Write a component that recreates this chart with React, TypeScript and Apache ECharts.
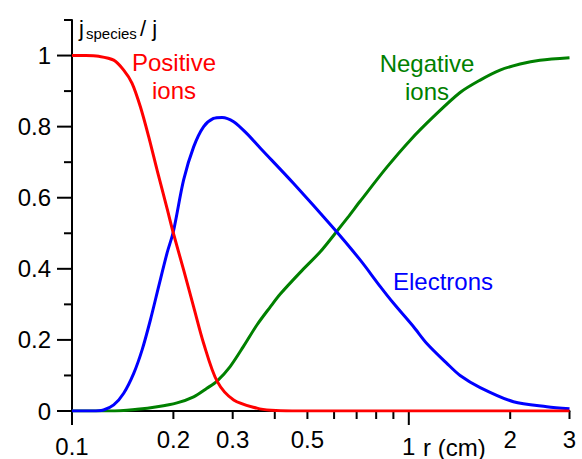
import React, { useEffect, useRef } from "react";
import * as echarts from "echarts";

// ---- data (r in cm, fraction j_species / j) ----
const positiveIons: [number, number][] = [
  [0.1, 1], [0.11, 1], [0.12, 0.998], [0.133, 0.987], [0.1424, 0.959], [0.1508, 0.922],
  [0.1596, 0.856], [0.1689, 0.772], [0.1789, 0.678], [0.1915, 0.57], [0.2, 0.5],
  [0.2145, 0.397], [0.2297, 0.293], [0.246, 0.19], [0.2696, 0.084], [0.302, 0.031],
  [0.354, 0.008], [0.39, 0.002], [0.45, 0], [1, 0], [3, 0],
];
const electrons: [number, number][] = [
  [0.1, 0], [0.115, 0], [0.124, 0.003], [0.133, 0.017], [0.1424, 0.05], [0.1525, 0.106],
  [0.1615, 0.172], [0.1709, 0.256], [0.1808, 0.35], [0.1915, 0.444], [0.2, 0.505],
  [0.2145, 0.65], [0.2297, 0.743], [0.246, 0.8], [0.263, 0.823], [0.279, 0.826],
  [0.302, 0.814], [0.33, 0.781], [0.362, 0.74], [0.455, 0.64], [0.598, 0.514],
  [0.717, 0.425], [0.823, 0.35], [0.901, 0.303], [1.033, 0.237], [1.131, 0.19],
  [1.297, 0.134], [1.42, 0.1], [1.629, 0.066], [2.045, 0.026], [2.57, 0.012], [3, 0.006],
];
const negativeIons: [number, number][] = [
  [0.1, 0], [0.13, 0], [0.156, 0.005], [0.179, 0.012], [0.205, 0.023], [0.2297, 0.04],
  [0.2515, 0.064], [0.2696, 0.084], [0.2948, 0.125], [0.3226, 0.181], [0.354, 0.242],
  [0.388, 0.293], [0.4153, 0.329], [0.476, 0.39], [0.546, 0.448], [0.605, 0.5],
  [0.662, 0.547], [0.717, 0.59], [0.861, 0.686], [1.01, 0.762], [1.184, 0.828],
  [1.42, 0.896], [1.629, 0.931], [1.866, 0.959], [2.14, 0.976], [2.45, 0.987], [3, 0.994],
];

// ---- axis ticks ----
const xTickValues = [0.1, 0.2, 0.3, 0.5, 1, 2, 3];
const xTickLabels = ["0.1", "0.2", "0.3", "0.5", "1", "2", "3"];
const xDecadeTicks = [0.1, 1];
const xMinorTicks = [0.4, 0.6, 0.7, 0.8, 0.9];
const yTickValues = [0, 0.2, 0.4, 0.6, 0.8, 1];
const yTickLabels = ["0", "0.2", "0.4", "0.6", "0.8", "1"];
const yMinorTicks = [0.1, 0.3, 0.5, 0.7, 0.9, 1.1];

const FONT = '"Liberation Sans", Arial, sans-serif';
const RED = "#ff0000";
const BLUE = "#0000ff";
const GREEN = "#008000";

export default function App() {
  const ref = useRef<HTMLDivElement>(null);
  useEffect(() => {
    if (!ref.current) return;
    const chart = echarts.init(ref.current, undefined, { renderer: "svg" });
    const lineSeries = (name: string, data: [number, number][], color: string) => ({
      type: "line",
      name,
      data,
      showSymbol: false,
      symbol: "none",
      smooth: 0.3,
      lineStyle: { color, width: 3 },
      z: 3,
    });
    chart.setOption({
      animation: false,
      grid: { left: 72, right: 12.5, top: 20, bottom: 48 },
      xAxis: {
        type: "log",
        logBase: 10,
        min: 0.1,
        max: 3,
        axisLine: { show: true, lineStyle: { color: "#000", width: 2 } },
        axisTick: { show: false },
        axisLabel: { show: false },
        splitLine: { show: false },
        minorSplitLine: { show: false },
      },
      yAxis: {
        type: "value",
        min: 0,
        max: 1.1,
        axisLine: { show: true, lineStyle: { color: "#000", width: 2 } },
        axisTick: { show: false },
        axisLabel: { show: false },
        splitLine: { show: false },
      },
      series: [
        lineSeries("Negative ions", negativeIons, GREEN),
        lineSeries("Electrons", electrons, BLUE),
        lineSeries("Positive ions", positiveIons, RED),
        {
          type: "custom",
          name: "xticks",
          clip: false,
          silent: true,
          data: xTickValues.map((v) => [v, 0]),
          renderItem: (params: any, api: any) => {
            const v = api.value(0);
            const p = api.coord([v, 0]);
            const long = xDecadeTicks.includes(v);
            const len = long ? 14 : 8;
            return {
              type: "group",
              children: [
                { type: "line", shape: { x1: p[0], y1: p[1], x2: p[0], y2: p[1] + len }, style: { stroke: "#000", lineWidth: 2 } },
                {
                  type: "text",
                  style: {
                    text: xTickLabels[params.dataIndex],
                    x: p[0],
                    y: p[1] + (long ? 35 : 28),
                    align: "center",
                    verticalAlign: "middle",
                    fill: "#000",
                    font: `24px ${FONT}`,
                  },
                },
              ],
            };
          },
        },
        {
          type: "custom",
          name: "xminor",
          clip: false,
          silent: true,
          data: xMinorTicks.map((v) => [v, 0]),
          renderItem: (params: any, api: any) => {
            const p = api.coord([api.value(0), 0]);
            return { type: "line", shape: { x1: p[0], y1: p[1], x2: p[0], y2: p[1] + 8 }, style: { stroke: "#000", lineWidth: 2 } };
          },
        },
        {
          type: "custom",
          name: "yticks",
          clip: false,
          silent: true,
          data: yTickValues.map((v) => [0.1, v]),
          renderItem: (params: any, api: any) => {
            const p = api.coord([0.1, api.value(1)]);
            return {
              type: "group",
              children: [
                { type: "line", shape: { x1: p[0] - 15, y1: p[1], x2: p[0], y2: p[1] }, style: { stroke: "#000", lineWidth: 2 } },
                {
                  type: "text",
                  style: {
                    text: yTickLabels[params.dataIndex],
                    x: p[0] - 21,
                    y: p[1],
                    align: "right",
                    verticalAlign: "middle",
                    fill: "#000",
                    font: `24px ${FONT}`,
                  },
                },
              ],
            };
          },
        },
        {
          type: "custom",
          name: "yminor",
          clip: false,
          silent: true,
          data: yMinorTicks.map((v) => [0.1, v]),
          renderItem: (params: any, api: any) => {
            const p = api.coord([0.1, api.value(1)]);
            return { type: "line", shape: { x1: p[0] - 8, y1: p[1], x2: p[0], y2: p[1] }, style: { stroke: "#000", lineWidth: 2 } };
          },
        },
      ],
      graphic: [
        { type: "text", x: 79, y: 28, style: { text: "j", font: `22px ${FONT}`, fill: "#000", verticalAlign: "middle" } },
        { type: "text", x: 86, y: 33, style: { text: "species", font: `15px ${FONT}`, fill: "#000", verticalAlign: "middle" } },
        { type: "text", x: 140, y: 28, style: { text: "/ j", font: `22px ${FONT}`, fill: "#000", verticalAlign: "middle" } },
        { type: "text", x: 423, y: 447, style: { text: "r (cm)", font: `24px ${FONT}`, fill: "#000", verticalAlign: "middle" } },
        { type: "text", x: 174, y: 62, style: { text: "Positive", font: `24px ${FONT}`, fill: RED, align: "center", verticalAlign: "middle" } },
        { type: "text", x: 174, y: 90, style: { text: "ions", font: `24px ${FONT}`, fill: RED, align: "center", verticalAlign: "middle" } },
        { type: "text", x: 427, y: 63, style: { text: "Negative", font: `24px ${FONT}`, fill: GREEN, align: "center", verticalAlign: "middle" } },
        { type: "text", x: 427, y: 91, style: { text: "ions", font: `24px ${FONT}`, fill: GREEN, align: "center", verticalAlign: "middle" } },
        { type: "text", x: 443, y: 281, style: { text: "Electrons", font: `24px ${FONT}`, fill: BLUE, align: "center", verticalAlign: "middle" } },
      ],
    });
    return () => chart.dispose();
  }, []);
  return (
    <div
      ref={ref}
      style={{ position: "fixed", left: 0, top: 0, width: 582, height: 459, background: "#fff" }}
    />
  );
}
